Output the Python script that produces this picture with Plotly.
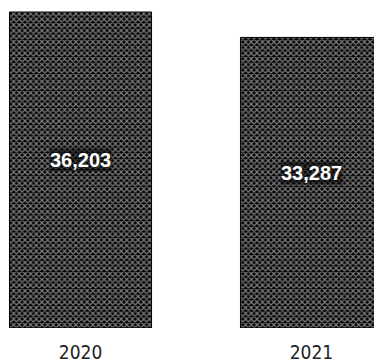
import plotly.graph_objects as go

years = ["2020", "2021"]
counts = [36203, 33287]
count_labels = ["36,203", "33,287"]

fig = go.Figure()

# dithered-looking bars: black ground with a fine white pattern
fig.add_trace(
    go.Bar(
        x=years,
        y=counts,
        marker=dict(
            color="black",
            line=dict(color="black", width=1),
            pattern=dict(shape="x", bgcolor="black", fgcolor="white", size=4, solidity=0.5),
        ),
        hoverinfo="skip",
    )
)

# value labels sit a little above the middle of each bar
# (year names look numeric, so place by category index)
for i, (val, lab) in enumerate(zip(counts, count_labels)):
    fig.add_annotation(
        x=i, y=val / 2, text="<b>" + lab + "</b>", showarrow=False, yshift=10,
        font=dict(family="Liberation Sans, Arial, sans-serif", size=20, color="white"),
        bgcolor="rgba(0,0,0,0.5)", borderpad=0,
    )

# the page adds an 8px body margin, so the figure is 8px smaller than the window
fig.update_layout(
    width=374,
    height=354,
    margin=dict(l=0, r=0, t=0, b=34),
    paper_bgcolor="white",
    plot_bgcolor="white",
    bargap=0.385,
    showlegend=False,
    xaxis=dict(
        type="category",
        range=[-0.3139, 1.3052],
        showgrid=False,
        showline=False,
        ticks="",
        ticklabelstandoff=11,
        tickfont=dict(family="Liberation Sans Narrow, DejaVu Sans Condensed, sans-serif", size=19, color="#222222"),
    ),
    yaxis=dict(range=[0, 36661], visible=False),
)

fig.write_html("out.html")
